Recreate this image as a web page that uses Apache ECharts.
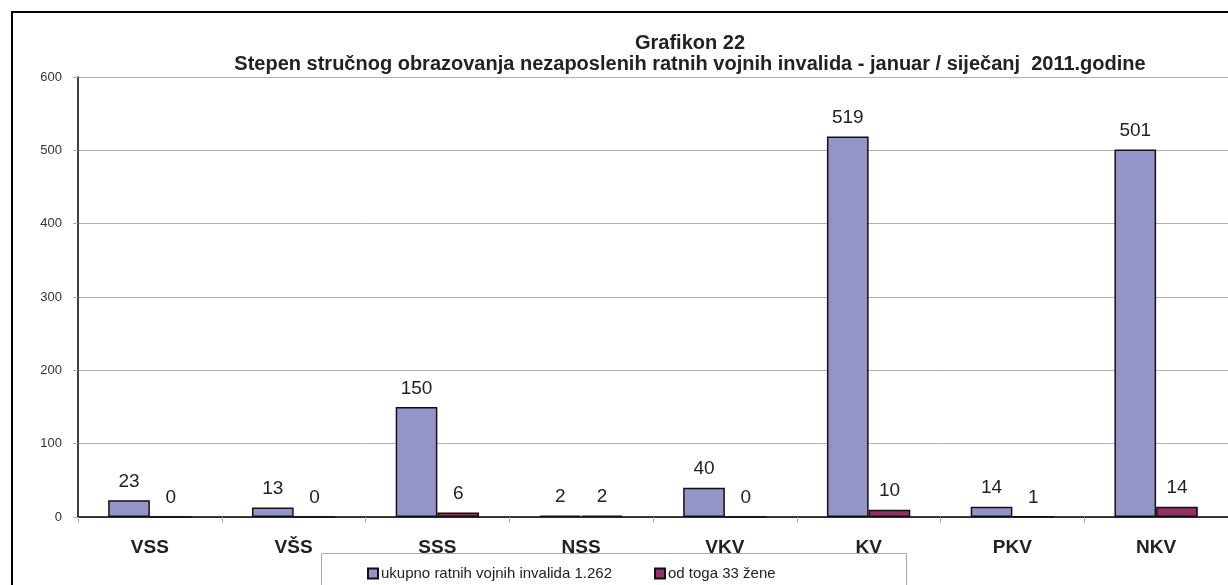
<!DOCTYPE html>
<html>
<head>
<meta charset="utf-8">
<script src="https://cdn.jsdelivr.net/npm/echarts@6/dist/echarts.min.js"></script>
<style>
  html, body { margin: 0; padding: 0; background: #fff; }
  #main { width: 1228px; height: 585px; }
</style>
</head>
<body>
<div id="main"></div>
<script>
// podaci
var categories = ['VSS', 'VŠS', 'SSS', 'NSS', 'VKV', 'KV', 'PKV', 'NKV'];
var ukupno = [23, 13, 150, 2, 40, 519, 14, 501];
var zene = [0, 0, 6, 2, 0, 10, 1, 14];
var seriesNames = ['ukupno ratnih vojnih invalida 1.262', 'od toga 33 žene'];

var chartDom = document.getElementById('main');
var myChart = echarts.init(chartDom);
var option;

var labelStyle = {
    show: true,
    position: 'top',
    distance: 9,
    fontFamily: 'Liberation Sans, Arial',
    fontSize: 19,
    color: '#222'
};

option = {
    animation: false,
    textStyle: { fontFamily: 'Liberation Sans, Arial' },
    title: {
        text: 'Grafikon 22\nStepen stručnog obrazovanja nezaposlenih ratnih vojnih invalida - januar / siječanj  2011.godine',
        left: 685,
        textAlign: 'center',
        top: 28,
        textStyle: {
            fontFamily: 'Liberation Sans, Arial',
            fontSize: 20,
            fontWeight: 'bold',
            color: '#222',
            lineHeight: 21
        }
    },
    graphic: [
        {
            type: 'rect',
            shape: { x: 12, y: 12, width: 1240, height: 600 },
            style: { fill: 'none', stroke: '#000', lineWidth: 2 }
        },
        {
            type: 'rect',
            shape: { x: 321.5, y: 553.5, width: 585, height: 60 },
            style: { fill: '#fff', stroke: '#aaa', lineWidth: 1 },
            z: 10
        }
    ],
    legend: {
        data: seriesNames,
        icon: 'rect',
        left: 362,
        top: 561,
        itemWidth: 10,
        itemHeight: 10,
        itemGap: 42,
        z: 20,
        textStyle: {
            fontFamily: 'Liberation Sans, Arial',
            fontSize: 15,
            color: '#222',
            padding: [0, 0, 0, -2]
        }
    },
    grid: {
        left: 78,
        top: 77,
        width: 1154,
        height: 440,
        containLabel: false
    },
    xAxis: {
        type: 'category',
        data: categories,
        axisLine: { lineStyle: { color: '#000', width: 1.5 } },
        axisTick: { show: true, length: 6, lineStyle: { color: '#aaa' } },
        axisLabel: {
            margin: 21,
            fontFamily: 'Liberation Sans, Arial',
            fontSize: 19,
            fontWeight: 'bold',
            color: '#222'
        }
    },
    yAxis: {
        type: 'value',
        min: 0,
        max: 600,
        interval: 100,
        axisLine: { show: true, lineStyle: { color: '#000', width: 1.5 } },
        axisTick: { show: true, length: 5, lineStyle: { color: '#aaa' } },
        axisLabel: {
            margin: 16,
            fontFamily: 'Liberation Sans, Arial',
            fontSize: 13,
            color: '#333'
        },
        splitLine: { lineStyle: { color: '#b0b0b0', width: 1 } }
    },
    series: [
        {
            name: seriesNames[0],
            type: 'bar',
            data: ukupno,
            barGap: '0%',
            barCategoryGap: '42%',
            itemStyle: { color: '#9494c8', borderColor: '#111', borderWidth: 1.5 },
            label: labelStyle
        },
        {
            name: seriesNames[1],
            type: 'bar',
            data: zene,
            itemStyle: { color: '#933162', borderColor: '#111', borderWidth: 1.5 },
            label: labelStyle
        }
    ]
};

option && myChart.setOption(option);
</script>
</body>
</html>
